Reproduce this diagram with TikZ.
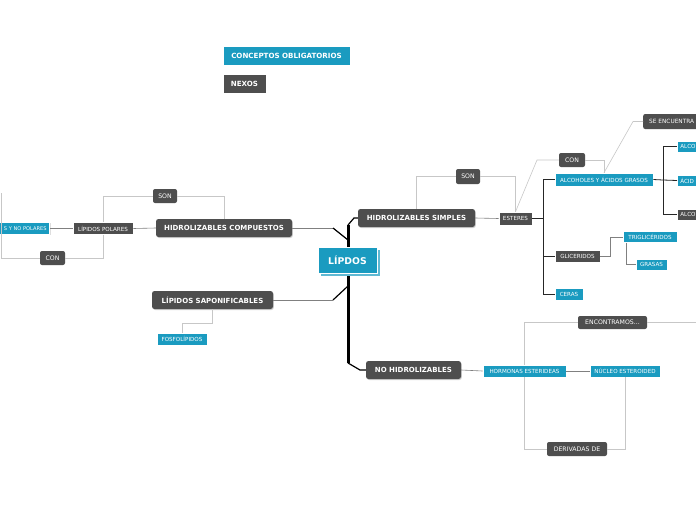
\documentclass[tikz,border=0pt]{standalone}
\usepackage{fontspec}
\setmainfont{DejaVu Sans}
\usetikzlibrary{shadows}
\definecolor{mapteal}{RGB}{26,155,192}
\definecolor{mapgray}{RGB}{78,78,78}
\begin{document}
\begin{tikzpicture}[x=1pt,y=-1pt,
  every node/.style={inner sep=0pt, text=white},
  sz/.style 2 args={minimum width=#1, minimum height=#2},
  main/.style={fill=mapgray, rounded corners=2.5pt, font=\fontsize{7}{8}\selectfont\bfseries,
    drop shadow={shadow xshift=0.8pt, shadow yshift=-1pt, fill=black!30, opacity=0.6}},
  link/.style={fill=mapgray, rounded corners=2pt, font=\fontsize{6.2}{7}\selectfont},
  sub/.style={fill=mapgray, draw=white, line width=0.6pt, font=\fontsize{5.6}{6}\selectfont,
    drop shadow={shadow xshift=0.8pt, shadow yshift=-0.8pt, fill=black!25, opacity=0.5}},
  leaf/.style={fill=mapteal, draw=white, line width=0.6pt, font=\fontsize{5.6}{6}\selectfont,
    drop shadow={shadow xshift=0.8pt, shadow yshift=-0.8pt, fill=black!25, opacity=0.5}},
  thin/.style={draw=black!22, line width=0.6pt},
  mid/.style={draw=black!50, line width=0.6pt},
  darkln/.style={draw=black!85, line width=0.8pt}]
\clip (0,0) rectangle (696,520);
\fill[white] (0,0) rectangle (696,520);

% legend
\node[leaf, sz={127}{19}, font=\fontsize{7.1}{8}\selectfont\bfseries] (leg1) at (286.5,55.5) {CONCEPTOS OBLIGATORIOS};
\node[sub, sz={43}{19}, font=\fontsize{7.1}{8}\selectfont\bfseries] (leg2) at (244.5,83.5) {NEXOS};

% trunk
\coordinate (t1) at (348,225);
\coordinate (t2) at (348,363);
\coordinate (khs) at (354,218);
\coordinate (khc) at (333,228);
\coordinate (jhc) at (348,240);
\coordinate (kls) at (333,300);
\coordinate (jls) at (348,286);
\coordinate (knh) at (360,370);
\draw[line width=3pt] (t1) -- (t2);

% main nodes
\node[main, sz={117}{18}] (hs) at (416.5,218) {HIDROLIZABLES SIMPLES};
\node[main, sz={136}{18}] (hc) at (224,228) {HIDROLIZABLES COMPUESTOS};
\node[main, sz={121}{18}] (ls) at (212.5,300) {LÍPIDOS SAPONIFICABLES};
\node[main, sz={95}{18}] (nh) at (413.5,370) {NO HIDROLIZABLES};

\draw[line width=1.2pt] (t1) -- (khs) -- (hs.west);
\draw[mid] (hc.east) -- (khc);
\draw[line width=1.2pt] (khc) -- (jhc);
\draw[mid] (ls.east) -- (kls);
\draw[line width=1.2pt] (kls) -- (jls);
\draw[line width=1.2pt] (t2) -- (knh) -- (nh.west);

\node[fill=mapteal, draw=white, line width=0.8pt, sz={59}{26}, font=\fontsize{9.3}{10}\selectfont\bfseries,
  drop shadow={shadow xshift=3pt, shadow yshift=-3pt, fill=mapteal!70, opacity=1}] (lip) at (347.5,260) {LÍPDOS};

% hidrolizables simples
\node[link, sz={24}{15}] (son1) at (468,176.5) {SON};
\node[sub, sz={33}{13}] (est) at (515.5,218.5) {ESTERES};
\node[link, sz={26}{14}] (con1) at (572,160) {CON};
\node[leaf, sz={98}{13}] (alc) at (604,179.5) {ALCOHOLES Y ÁCIDOS GRASOS};
\node[link, sz={60}{15}, anchor=west, align=left, text width=54pt, font=\fontsize{5.8}{7}\selectfont] (se) at (643,121.5) {\hspace*{3pt}SE ENCUENTRA};
\node[leaf, sz={30}{11}, anchor=west, align=left, text width=30pt] (a1) at (677,146.5) {\hspace*{3pt}ALCO};
\node[leaf, sz={30}{11}, anchor=west, align=left, text width=30pt] (a2) at (677,180.5) {\hspace*{3pt}ÁCID};
\node[sub, sz={30}{11}, anchor=west, align=left, text width=30pt] (a3) at (677,214.5) {\hspace*{3pt}ALCO};
\node[sub, sz={45}{12}] (gli) at (577.5,256) {GLICERIDOS};
\node[leaf, sz={54}{11}] (tri) at (650,237) {TRIGLICÉRIDOS};
\node[leaf, sz={31}{11}] (gra) at (651.5,264.5) {GRASAS};
\node[leaf, sz={28}{12}] (cer) at (569,294.5) {CERAS};

\coordinate (ej) at (543,218.5);
\coordinate (k1) at (537,160);
\coordinate (k2) at (633,121.5);
\coordinate (aj) at (663,180);
\coordinate (gj) at (610,256);
\draw[thin] (hs.north) |- (son1.west);
\draw[thin] (son1.east) -| (est.north);
\draw[mid] (hs.east) -- (est.west);
\draw[darkln] (est.east) -- (ej);
\draw[darkln] (ej) |- (alc.west);
\draw[darkln] (ej) |- (gli.west);
\draw[darkln] (ej) |- (cer.west);
\draw[thin] (est.north) -- (k1) -- (con1.west);
\draw[thin] (con1.east) -| (alc.north);
\draw[thin] (alc.north) -- (k2) -- (se.west);
\draw[darkln] (alc.east) -- (aj);
\draw[darkln] (aj) |- (a1.west);
\draw[darkln] (aj) -- (a2.west);
\draw[darkln] (aj) |- (a3.west);
\draw[mid] (gli.east) -- (gj) |- (tri.west);
\draw[mid] ([xshift=4pt]tri.south west) |- (gra.west);

% no hidrolizables
\node[leaf, sz={83}{12}] (hor) at (524.5,371) {HORMONAS ESTERIDEAS};
\node[leaf, sz={70}{12}] (nuc) at (625,371) {NÚCLEO ESTEROIDED};
\node[link, sz={69}{13}] (enc) at (612.5,322.5) {ENCONTRAMOS...};
\node[link, sz={60}{14}] (der) at (577,449) {DERIVADAS DE};
\coordinate (encend) at (700,322.5);
\draw[mid] (nh.east) -- (hor.west);
\draw[mid] (hor.east) -- (nuc.west);
\draw[thin] (hor.north) |- (enc.west);
\draw[thin] (enc.east) -- (encend);
\draw[thin] (hor.south) |- (der.west);
\draw[thin] (der.east) -| (nuc.south);

% hidrolizables compuestos
\node[sub, sz={60}{12}] (lp) at (103,228.5) {LÍPIDOS POLARES};
\node[leaf, sz={90}{12}, anchor=east, align=right, text width=88pt, font=\fontsize{5.1}{6}\selectfont] (pol) at (50,228.5) {S Y NO POLARES\hspace*{2pt}};
\node[link, sz={24}{14}] (son2) at (165,196) {SON};
\node[link, sz={25}{14}] (con2) at (52.5,258) {CON};
\coordinate (lft) at (1,193);
\draw[mid] (hc.west) -- (lp.east);
\draw[mid] (lp.west) -- (pol.east);
\draw[thin] (lp.north) |- (son2.west);
\draw[thin] (son2.east) -| (hc.north);
\draw[thin] (lp.south) |- (con2.east);
\draw[thin] (con2.west) -| (lft);

% saponificables
\node[leaf, sz={50}{12}] (fos) at (182,339) {FOSFOLÍPIDOS};
\draw[thin] (ls.south) -- ++(0,14) -| (fos.north);
\end{tikzpicture}
\end{document}
